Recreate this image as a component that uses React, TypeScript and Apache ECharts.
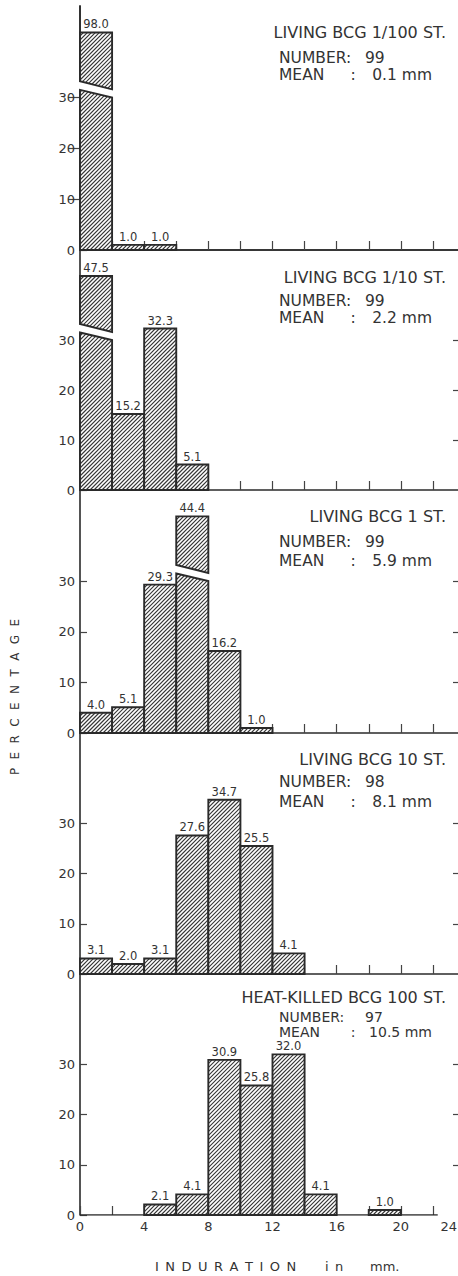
import React, { useEffect, useRef } from 'react';
import * as echarts from 'echarts';

// ---------- DATA ----------
// Induration bins are 2 mm wide, starting at 0 mm.
const BIN_WIDTH = 2;
const panel1Values = [98.0, 1.0, 1.0];
const panel2Values = [47.5, 15.2, 32.3, 5.1];
const panel3Values = [4.0, 5.1, 29.3, 44.4, 16.2, 1.0];
const panel4Values = [3.1, 2.0, 3.1, 27.6, 34.7, 25.5, 4.1];
const panel5Values = [null, null, 2.1, 4.1, 30.9, 25.8, 32.0, 4.1, null, 1.0];
const PANEL_VALUES: (number | null)[][] = [panel1Values, panel2Values, panel3Values, panel4Values, panel5Values];
const BROKEN_BIN = [0, 0, 3, -1, -1]; // bar drawn with an axis break

const TITLES = ['LIVING BCG 1/100 ST.', 'LIVING BCG 1/10 ST.', 'LIVING BCG 1 ST.', 'LIVING BCG 10 ST.', 'HEAT-KILLED BCG 100 ST.'];
const NUMBERS = ['99', '99', '99', '98', '97'];
const MEANS = ['0.1 mm', '2.2 mm', '5.9 mm', '8.1 mm', '10.5 mm'];

const X_MIN = 0;
const X_MAX = 24;
const X_TICK_LABELS = [0, 4, 8, 12, 16, 20, 24];
const Y_TICK_LABELS = [0, 10, 20, 30];
const Y_RIGHT_TICKS = [10, 20, 30];
const LAST_PANEL_BASELINE_END = 22.3; // bottom axis line of last panel stops just past 22 mm

// ---------- LAYOUT / STYLE ----------
const FONT = 'DejaVu Sans';
const INK = '#2a2a2a';
const TEXT = '#333333';
const PANEL_TOP = [6, 250, 490, 733, 974];
const PANEL_ZERO = [250, 490, 733, 974, 1215];
const TITLE_Y = [32, 277, 516, 759, 997];
const NUMBER_Y = [58, 301, 542, 782, 1017];
const MEAN_Y = [75, 318, 561, 802, 1032];
const INFO_FONT = [15.5, 15.5, 15.5, 15.5, 14];
const GRID_LEFT = 80;
const GRID_WIDTH = 385;
// display geometry of a broken bar (axis units)
const BREAK = { cap: 42.8, lowerLeft: 31.5, lowerRight: 30.0, upperLeft: 33.2, upperRight: 31.6 };
const HATCH_STEP = 4;

type Piece = { xl: number; xr: number; tl: number; tr: number; bl: number; br: number };

function hatchPath(p: Piece, S: number): string {
  const w = p.xr - p.xl;
  const b1 = (p.tr - p.tl) / w, a1 = p.tl - b1 * p.xl;
  const b2 = (p.br - p.bl) / w, a2 = p.bl - b2 * p.xl;
  const cMin = p.xl + Math.min(p.tl, p.tr);
  const cMax = p.xr + Math.max(p.bl, p.br);
  let d = '';
  for (let c = Math.ceil(cMin / S) * S; c <= cMax; c += S) {
    const tA = Math.max(p.xl, (c - a2) / (1 + b2));
    const tB = Math.min(p.xr, (c - a1) / (1 + b1));
    if (tB - tA > 0.3) {
      d += `M${tA.toFixed(2)} ${(c - tA).toFixed(2)}L${tB.toFixed(2)} ${(c - tB).toFixed(2)}`;
    }
  }
  return d;
}

function renderBar(params: any, api: any) {
  const x0 = api.value(0), x1 = api.value(1), v = api.value(2), broken = api.value(3) === 1;
  const pZero = api.coord([x0, 0]);
  const xl = pZero[0], yb = pZero[1];
  const xr = api.coord([x1, 0])[0];
  const yAt = (val: number) => api.coord([x0, val])[1];
  const children: any[] = [];
  const pieces: Piece[] = [];
  let topY: number;
  if (broken) {
    const lowL = yAt(BREAK.lowerLeft), lowR = yAt(BREAK.lowerRight);
    const upL = yAt(BREAK.upperLeft), upR = yAt(BREAK.upperRight);
    topY = yAt(BREAK.cap);
    children.push({
      type: 'polygon',
      shape: { points: [[xl - 3, upL], [xr + 1, upR], [xr + 1, lowR], [xl - 3, lowL]] },
      style: { fill: '#ffffff', stroke: 'none' },
    });
    pieces.push({ xl, xr, tl: lowL, tr: lowR, bl: yb, br: yb });
    pieces.push({ xl, xr, tl: topY, tr: topY, bl: upL, br: upR });
  } else {
    topY = yAt(v);
    pieces.push({ xl, xr, tl: topY, tr: topY, bl: yb, br: yb });
  }
  for (const p of pieces) {
    const pts = [[p.xl, p.tl], [p.xr, p.tr], [p.xr, p.br], [p.xl, p.bl]];
    children.push({ type: 'polygon', shape: { points: pts }, style: { fill: '#ffffff', stroke: 'none' } });
    const d = hatchPath(p, HATCH_STEP);
    if (d) {
      children.push({ type: 'path', shape: { pathData: d }, style: { fill: 'none', stroke: '#383838', lineWidth: 1.15 } });
    }
    children.push({ type: 'polygon', shape: { points: pts }, style: { fill: 'none', stroke: INK, lineWidth: 1.9 } });
  }
  children.push({
    type: 'text',
    style: {
      text: v.toFixed(1),
      x: (xl + xr) / 2,
      y: topY - 2,
      textAlign: 'center',
      textVerticalAlign: 'bottom',
      align: 'center',
      verticalAlign: 'bottom',
      fontSize: 11.5,
      fontFamily: FONT,
      fill: TEXT,
    },
  });
  return { type: 'group', children };
}

function textEl(text: string, x: number, y: number, size: number, align: string, extra: any = {}) {
  return {
    type: 'text',
    x,
    y,
    silent: true,
    ...extra,
    style: {
      text,
      fontSize: size,
      fontFamily: FONT,
      fill: TEXT,
      textAlign: align,
      textVerticalAlign: 'middle',
      align,
      verticalAlign: 'middle',
    },
  };
}

function buildOption(): any {
  const axisLineStyle = { color: INK, width: 1.6 };
  const grid: any[] = [];
  const xAxis: any[] = [];
  const yAxis: any[] = [];
  const series: any[] = [];
  const graphic: any[] = [];

  for (let i = 0; i < 5; i++) {
    grid.push({
      left: GRID_LEFT,
      width: GRID_WIDTH,
      top: PANEL_TOP[i],
      height: PANEL_ZERO[i] - PANEL_TOP[i],
      outerBoundsMode: 'none',
      containLabel: false,
    });
    xAxis.push({
      type: 'value',
      gridIndex: i,
      position: 'bottom',
      min: X_MIN,
      max: X_MAX,
      interval: 2,
      axisLine: { show: i !== 4, lineStyle: axisLineStyle },
      axisTick: { show: true, inside: true, length: 9, lineStyle: { color: '#444', width: 1.2 } },
      axisLabel: {
        show: i === 4,
        customValues: X_TICK_LABELS,
        alignMaxLabel: 'right',
        fontSize: 13,
        fontFamily: FONT,
        color: TEXT,
        margin: 5,
        formatter: (v: number) => (v === X_MAX ? `{edge|${v}}` : String(v)),
        rich: {
          edge: { fontSize: 13, fontFamily: FONT, color: TEXT, padding: [0, 8, 0, 0] },
        },
      },
      splitLine: { show: false },
    });
    yAxis.push({
      type: 'value',
      gridIndex: i,
      position: 'left',
      min: 0,
      max: 48,
      axisLine: { show: true, lineStyle: axisLineStyle },
      axisTick: { show: true, inside: true, length: 7, customValues: Y_TICK_LABELS, lineStyle: { color: '#444', width: 1.2 } },
      axisLabel: { show: true, customValues: Y_TICK_LABELS, fontSize: 13, fontFamily: FONT, color: TEXT, margin: 5 },
      splitLine: { show: false },
    });
  }
  // top border of first panel
  xAxis.push({
    type: 'value', gridIndex: 0, position: 'top', min: X_MIN, max: X_MAX,
    axisLine: { show: true, lineStyle: axisLineStyle },
    axisTick: { show: false }, axisLabel: { show: false }, splitLine: { show: false },
  });
  // right-hand inward ticks
  for (let i = 0; i < 5; i++) {
    yAxis.push({
      type: 'value', gridIndex: i, position: 'right', min: 0, max: 48,
      axisLine: { show: true, lineStyle: axisLineStyle },
      axisTick: { show: true, inside: true, length: 12, customValues: Y_RIGHT_TICKS, lineStyle: { color: '#444', width: 1.2 } },
      axisLabel: { show: false }, splitLine: { show: false },
    });
  }

  for (let i = 0; i < 5; i++) {
    const data: number[][] = [];
    PANEL_VALUES[i].forEach((v, k) => {
      if (v == null) return;
      data.push([k * BIN_WIDTH, (k + 1) * BIN_WIDTH, v, BROKEN_BIN[i] === k ? 1 : 0]);
    });
    series.push({
      type: 'custom',
      coordinateSystem: 'cartesian2d',
      xAxisIndex: i,
      yAxisIndex: i,
      silent: true,
      encode: { x: [0, 1], y: 2 },
      data,
      renderItem: renderBar,
      z: 5,
    });

    const f = INFO_FONT[i];
    graphic.push(textEl(TITLES[i], 446, TITLE_Y[i], 16, 'right'));
    graphic.push(textEl('NUMBER:', 279, NUMBER_Y[i], f, 'left'));
    graphic.push(textEl(NUMBERS[i], 365, NUMBER_Y[i], f, 'left'));
    graphic.push(textEl('MEAN', 279, MEAN_Y[i], f, 'left'));
    graphic.push(textEl(':', 353, MEAN_Y[i], f, 'center'));
    graphic.push(textEl(MEANS[i], 432, MEAN_Y[i], f, 'right'));
  }

  // bottom axis line of the last panel (stops short of the right edge)
  series.push({
    type: 'line',
    xAxisIndex: 4,
    yAxisIndex: 4,
    silent: true,
    symbol: 'none',
    data: [[X_MIN, 0], [LAST_PANEL_BASELINE_END, 0]],
    lineStyle: { color: INK, width: 1.6 },
    z: 1,
  });

  const spaced = (s: string) => s.split('').join('\u2002\u2009');
  graphic.push(textEl(spaced('PERCENTAGE'), 15, 697, 12, 'center', { rotation: Math.PI / 2 }));
  graphic.push(textEl('INDURATION'.split('').join('\u2002'), 155, 1266, 13, 'left'));
  graphic.push(textEl('i\u2002n', 325, 1266, 13, 'left'));
  graphic.push(textEl('mm.', 370, 1266, 13, 'left'));

  return {
    animation: false,
    backgroundColor: '#ffffff',
    grid,
    xAxis,
    yAxis,
    series,
    graphic,
  };
}

export default function App() {
  const ref = useRef<HTMLDivElement>(null);
  useEffect(() => {
    if (!ref.current) return;
    const chart = echarts.init(ref.current, null, { renderer: 'svg' });
    chart.setOption(buildOption());
    return () => chart.dispose();
  }, []);
  return (
    <div
      ref={ref}
      style={{ position: 'absolute', left: 0, top: 0, width: 458, height: 1276, background: '#ffffff' }}
    />
  );
}
